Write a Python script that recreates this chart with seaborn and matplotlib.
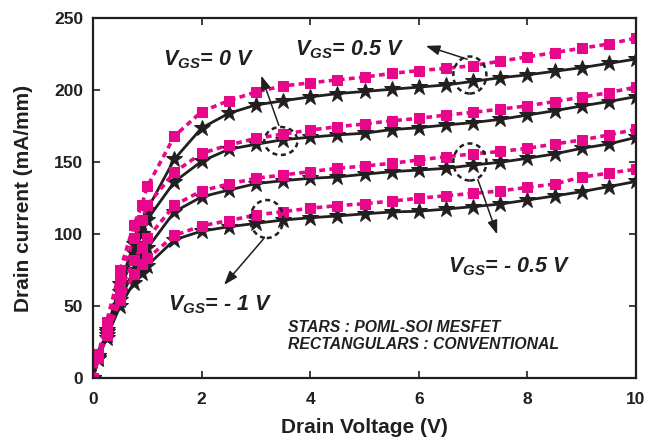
import numpy as np
import pandas as pd
import matplotlib
matplotlib.use("Agg")
import matplotlib.pyplot as plt
import seaborn as sns
from matplotlib.patches import Ellipse

sns.set_theme(style="ticks")
plt.rcParams["font.family"] = ["Liberation Sans", "DejaVu Sans"]
plt.rcParams["mathtext.fontset"] = "custom"
plt.rcParams["mathtext.it"] = "Liberation Sans:italic:bold"
plt.rcParams["mathtext.rm"] = "Liberation Sans:italic:bold"
plt.rcParams["mathtext.bf"] = "Liberation Sans:italic:bold"

# Drain voltage sweep (V)
vd = [0, 0.1, 0.25, 0.5, 0.75, 0.9, 1.0, 1.5,
      2.0, 2.5, 3.0, 3.5, 4.0, 4.5, 5.0, 5.5, 6.0, 6.5, 7.0, 7.5, 8.0, 8.5, 9.0, 9.5, 10.0]

vgs_levels = [0.5, 0, -0.5, -1]

# Conventional MESFET drain current (mA/mm), one list per gate bias
conv_05 = [0, 17, 39, 75, 106, 120, 133, 168,
           185, 192.6, 198.6, 202.8, 205, 207, 209, 211.5, 213.5, 215, 217, 220, 223, 226, 229, 232, 236]
conv_0 = [0, 16, 36, 68, 97, 110, 120, 143,
          156, 161.8, 166.4, 169.4, 172.2, 174.5, 176.4, 178.6, 180.3, 182.6, 184.5, 186.7, 189, 192, 195, 198.2, 202]
conv_m05 = [0, 15, 33, 60, 82, 91, 97, 120,
            130, 134.7, 138.7, 141, 143.3, 145.6, 147.2, 149.1, 151.4, 153.7, 155.6, 157.3, 159.5, 162.5, 165.3, 168.8, 172.7]
conv_m1 = [0, 14, 30, 54, 72, 79, 83, 99,
           105.7, 109.3, 113.2, 115.5, 117.9, 119.7, 121, 122.9, 124.8, 126.6, 128.2, 129.9, 132.4, 134.7, 139.5, 142.3, 145]

# POML-SOI MESFET drain current (mA/mm)
soi_05 = [0, 15, 33, 65, 93, 106, 117, 152,
          173.6, 183.8, 189.6, 192.5, 195.2, 197.5, 199, 200.5, 202, 203.5, 206, 208.5, 210.5, 213, 215.5, 218.5, 221.5]
soi_0 = [0, 15, 32, 60, 87, 100, 110, 136.3,
         150.5, 158.8, 162.3, 165.5, 167.2, 168.8, 170, 172.5, 173.8, 175.7, 177.4, 179.6, 182.6, 185.6, 188.9, 192, 195.4]
soi_m05 = [0, 14, 30, 54, 75, 84, 90, 115.5,
           125.8, 130.5, 135, 137, 138.7, 139.6, 141.5, 143.3, 144.4, 145.6, 147.9, 149.8, 152.6, 155.6, 159.5, 162.5, 167.1]
soi_m1 = [0, 13, 28, 50, 66, 73, 78, 96,
          102, 105, 107.4, 109.7, 111.3, 112.5, 114, 115.3, 115.8, 117.3, 119, 120.8, 123.6, 126.4, 129.4, 132.9, 136.5]

x_ticks = [0, 2, 4, 6, 8, 10]
y_ticks = [0, 50, 100, 150, 200, 250]

PINK = "#E8078A"
INK = "#231F20"


def long_frame(series):
    rows = []
    for vgs, ids in zip(vgs_levels, series):
        for v, i in zip(vd, ids):
            rows.append({"vd": v, "id": i, "vgs": vgs})
    return pd.DataFrame(rows)


conv_df = long_frame([conv_05, conv_0, conv_m05, conv_m1])
soi_df = long_frame([soi_05, soi_0, soi_m05, soi_m1])

fig = plt.figure(figsize=(6.6, 4.41), dpi=100)
ax = fig.add_axes([93 / 660, 1 - 378 / 441, 543 / 660, 360 / 441])

sns.lineplot(data=soi_df, x="vd", y="id", units="vgs", estimator=None, sort=False,
             color=INK, lw=2.0, marker="*", markersize=12, markeredgecolor=INK,
             markerfacecolor=INK, ax=ax, legend=False)
sns.lineplot(data=conv_df, x="vd", y="id", units="vgs", estimator=None, sort=False,
             color=PINK, lw=2.6, linestyle=(0, (1.6, 1.2)), marker="s", markersize=7.3,
             markeredgecolor=PINK, markerfacecolor=PINK, ax=ax, legend=False)

ax.set_xlim(0, 10)
ax.set_ylim(0, 250)
ax.set_xticks(x_ticks)
ax.set_yticks(y_ticks)
ax.set_xticklabels([str(t) for t in x_ticks])
ax.set_yticklabels([str(t) for t in y_ticks])
ax.tick_params(direction="in", length=5, width=1.2, top=True, right=True,
               labelsize=12.5, colors=INK)
ax.tick_params(axis="x", pad=10)
ax.tick_params(axis="y", pad=7)
for lab in ax.get_xticklabels() + ax.get_yticklabels():
    lab.set_fontweight("bold")
for sp in ax.spines.values():
    sp.set_linewidth(1.6)
    sp.set_color(INK)
    sp.set_visible(True)

ax.set_xlabel("Drain Voltage (V)", fontsize=15, fontweight="bold", color=INK, labelpad=8)
ax.set_ylabel("Drain current (mA/mm)", fontsize=15, fontweight="bold", color=INK, labelpad=15)

# Bias labels
lab_kw = dict(fontsize=15.5, fontweight="bold", style="italic", color=INK, va="baseline", ha="left")
ax.text(1.29, 217.4, r"$V_{GS}$= 0 V", **lab_kw)
ax.text(3.72, 224.3, r"$V_{GS}$= 0.5 V", **lab_kw)
ax.text(6.54, 73.6, r"$V_{GS}$= - 0.5 V", **lab_kw)
ax.text(1.38, 47.2, r"$V_{GS}$= - 1 V", **lab_kw)

note_kw = dict(fontsize=11.3, fontweight="bold", style="italic", color=INK, va="baseline", ha="left")
ax.text(3.59, 31.9, "STARS : POML-SOI MESFET", **note_kw)
ax.text(3.59, 20.3, "RECTANGULARS : CONVENTIONAL", **note_kw)

# Dashed circles around the marked pairs of curves
for cx, cy, h in [(3.46, 164.6, 19.4), (6.94, 210.4, 25.7), (6.94, 150.0, 25.7), (3.2, 110.4, 26.4)]:
    ax.add_patch(Ellipse((cx, cy), 0.61, h, fill=False, ls=(0, (2, 1.5)), lw=1.8,
                         edgecolor=INK, zorder=5))

arrow_kw = dict(arrowstyle="-|>,head_length=0.7,head_width=0.25", color=INK, lw=1.1)
for (x0, y0), (x1, y1) in [((3.44, 173.6), (3.08, 211.8)),
                           ((6.94, 220.8), (6.08, 231.25)),
                           ((7.07, 139.6), (7.46, 97.9)),
                           ((3.17, 97.9), (2.38, 63.2))]:
    ax.annotate("", xy=(x1, y1), xytext=(x0, y0), arrowprops=arrow_kw, zorder=6)

fig.savefig("out.png", dpi=100)
